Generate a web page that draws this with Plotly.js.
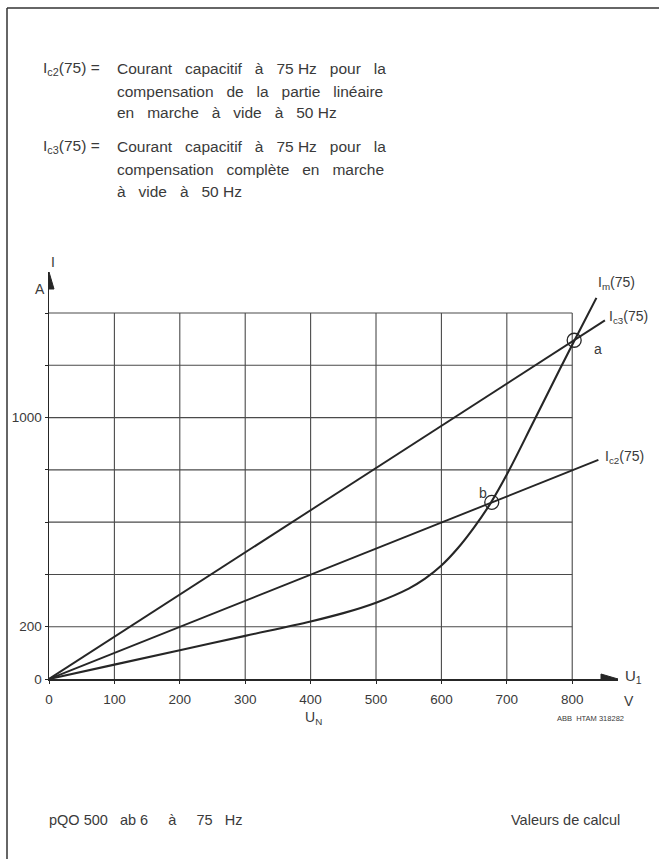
<!DOCTYPE html>
<html>
<head>
<meta charset="utf-8">
<script src="https://cdn.plot.ly/plotly-3.0.1.min.js"></script>
<style>html,body{margin:0;padding:0;background:#fff;}#chart{width:659px;height:859px;}</style>
</head>
<body>
<div id="chart"></div>
<script>
// ---- data ----
const xTicks = [0, 100, 200, 300, 400, 500, 600, 700, 800];          // U1 [V]
const yGrid = [0, 200, 400, 600, 800, 1000, 1200, 1400];             // I [A] grid lines
const yLabelVals = [0, 200, 1000];                                   // labelled I values
const imU = [0, 100, 200, 300, 400, 450, 500, 550, 575, 600, 625, 650, 675, 700, 741, 781, 803, 837];
const imI = [0, 55, 110, 165, 220, 252, 292, 346, 384, 434, 500, 580, 672, 782, 985, 1185, 1293, 1458];
const ic3U = [0, 850];
const ic3I = [0, 1372];
const ic2U = [0, 840];
const ic2I = [0, 838];
const ptLabels = ['a', 'b'];
const ptU = [803, 677];
const ptI = [1296, 676];

// ---- layout geometry ----
const W = 659, H = 859;
const L = 49, R = 41, T = 272, B = 180;
const XMAX = 870, YMAX = 1557;
const pw = W - L - R, ph = H - T - B;
const PX = p => (p - L) / pw;
const PY = p => (H - B - p) / ph;

const ink = '#262626';
const txt = '#3a3a3a';
const FONT = 'Liberation Sans, Arial, sans-serif';
const S = '\u00A0';
const g = n => S.repeat(n);

function lineTrace(x, y, w) {
  return {x: x, y: y, mode: 'lines', type: 'scatter', hoverinfo: 'skip',
    line: {color: ink, width: w, shape: 'spline', smoothing: 1}, cliponaxis: false, showlegend: false};
}

const traces = [
  lineTrace(ic3U, ic3I, 1.9),
  lineTrace(ic2U, ic2I, 1.9),
  lineTrace(imU, imI, 2.1),
  {x: ptU, y: ptI, mode: 'markers', type: 'scatter', hoverinfo: 'skip', showlegend: false, cliponaxis: false,
   marker: {symbol: 'circle-open', size: 14, color: ink, line: {width: 1.3, color: ink}}}
];

const shapes = [];
const xMaxGrid = xTicks[xTicks.length - 1], yMaxGrid = yGrid[yGrid.length - 1];
xTicks.slice(1).forEach(v => shapes.push({type: 'line', xref: 'x', yref: 'y', x0: v, x1: v, y0: 0, y1: yMaxGrid,
  line: {color: '#4a4a4a', width: 1.1}, layer: 'below'}));
yGrid.slice(1).forEach(v => shapes.push({type: 'line', xref: 'x', yref: 'y', x0: 0, x1: xMaxGrid, y0: v, y1: v,
  line: {color: '#4a4a4a', width: 1.1}, layer: 'below'}));
// axis arrows
shapes.push({type: 'path', xref: 'x', yref: 'y', xsizemode: 'pixel', ysizemode: 'pixel', xanchor: XMAX, yanchor: 0,
  path: 'M-17,-5 L0,0 L-17,5 Z', fillcolor: ink, line: {color: ink, width: 1}});
shapes.push({type: 'path', xref: 'x', yref: 'y', xsizemode: 'pixel', ysizemode: 'pixel', xanchor: 0, yanchor: YMAX,
  path: 'M-5,-17 L0,0 L5,-17 Z', fillcolor: ink, line: {color: ink, width: 1}});
// page frame (top and left edges)
shapes.push({type: 'line', xref: 'paper', yref: 'paper', x0: PX(7), x1: PX(W), y0: PY(8), y1: PY(8), line: {color: '#333', width: 1.5}});
shapes.push({type: 'line', xref: 'paper', yref: 'paper', x0: PX(7), x1: PX(7), y0: PY(8), y1: PY(H), line: {color: '#333', width: 1.5}});

const ann = [];
function t(text, px, py, opts) {
  opts = opts || {};
  ann.push({text: text, xref: 'paper', yref: 'paper', x: PX(px), y: PY(py), showarrow: false,
    xanchor: opts.xa || 'left', yanchor: 'middle',
    font: {family: FONT, size: opts.size || 14, color: opts.color || txt}});
}
const TS = 15.5;
// explanatory text block
t('I<sub>c2</sub>(75)' + S + '=', 41, 68, {size: TS});
t(['Courant', 'capacitif', 'à', '75' + S + 'Hz', 'pour', 'la'].join(g(3)), 115, 68, {size: TS});
t(['compensation', 'de', 'la', 'partie', 'linéaire'].join(g(3)), 115, 92, {size: TS});
t(['en', 'marche', 'à', 'vide', 'à', '50' + S + 'Hz'].join(g(3)), 115, 113, {size: TS});
t('I<sub>c3</sub>(75)' + S + '=', 41, 146, {size: TS});
t(['Courant', 'capacitif', 'à', '75' + S + 'Hz', 'pour', 'la'].join(g(3)), 115, 146, {size: TS});
t(['compensation', 'complète', 'en', 'marche'].join(g(3)), 115, 169, {size: TS});
t(['à', 'vide', 'à', '50' + S + 'Hz'].join(g(3)), 115, 191, {size: TS});
// axis captions
t('I', 53, 262, {xa: 'center'});
t('A', 40, 289, {xa: 'center'});
t('U<sub>1</sub>', 623, 676, {size: 15});
t('V', 629, 701, {xa: 'center'});
t('U<sub>N</sub>', 313, 718, {xa: 'center'});
t('ABB' + g(2) + 'HTAM' + S + '318282', 590, 718, {xa: 'center', size: 7.5});
// curve labels
t('I<sub>m</sub>(75)', 596, 283);
t('I<sub>c3</sub>(75)', 607, 317);
t('I<sub>c2</sub>(75)', 603, 457);
// point labels
t(ptLabels[0], 592, 349);
t(ptLabels[1], 477, 493);
// footer
t('pQO' + S + '500' + g(3) + 'ab' + S + '6' + g(5) + 'à' + g(5) + '75' + g(3) + 'Hz', 47, 820, {size: 14.5});
t('Valeurs' + S + 'de' + S + 'calcul', 622, 820, {xa: 'right', size: 14.5});

const layout = {
  width: W, height: H,
  margin: {l: L, r: R, t: T, b: B, pad: 0},
  paper_bgcolor: '#fff', plot_bgcolor: '#fff',
  showlegend: false,
  xaxis: {range: [0, XMAX], showgrid: false, zeroline: false, showline: true, linecolor: ink, linewidth: 1.5,
    tickmode: 'array', tickvals: xTicks, ticktext: xTicks.map(String), ticks: 'outside', ticklen: 3, tickcolor: ink,
    tickfont: {family: FONT, size: 13.5, color: txt}, ticklabelstandoff: 4, fixedrange: true},
  yaxis: {range: [0, YMAX], showgrid: false, zeroline: false, showline: true, linecolor: ink, linewidth: 1.5,
    tickmode: 'array', tickvals: yLabelVals, ticktext: yLabelVals.map(String), ticks: 'outside', ticklen: 3, tickcolor: ink,
    minor: {tickmode: 'array', tickvals: yGrid, ticks: 'outside', ticklen: 3, tickcolor: ink, showgrid: false},
    tickfont: {family: FONT, size: 13.5, color: txt}, fixedrange: true},
  shapes: shapes,
  annotations: ann
};

Plotly.newPlot('chart', traces, layout, {staticPlot: true, displayModeBar: false});
</script>
</body>
</html>
